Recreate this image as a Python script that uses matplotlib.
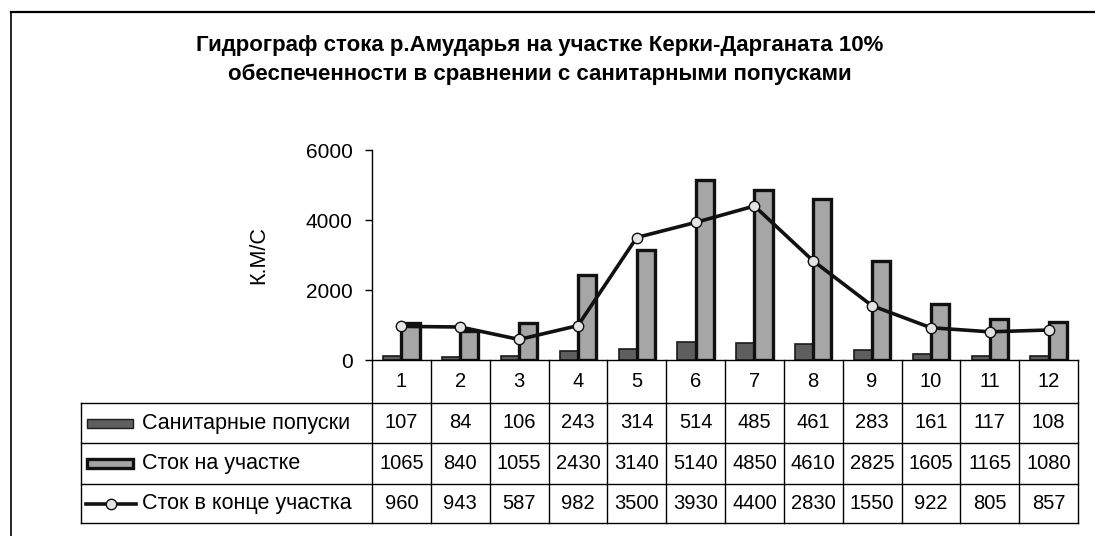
import matplotlib
matplotlib.use("Agg")
import matplotlib.pyplot as plt
from matplotlib.lines import Line2D
from matplotlib.patches import Rectangle

# данные
months = [1, 2, 3, 4, 5, 6, 7, 8, 9, 10, 11, 12]
sanitary = [107, 84, 106, 243, 314, 514, 485, 461, 283, 161, 117, 108]
flow_reach = [1065, 840, 1055, 2430, 3140, 5140, 4850, 4610, 2825, 1605, 1165, 1080]
flow_end = [960, 943, 587, 982, 3500, 3930, 4400, 2830, 1550, 922, 805, 857]
series_names = ["Санитарные попуски", "Сток на участке", "Сток в конце участка"]
title_lines = ["Гидрограф стока р.Амударья на участке Керки-Дарганата 10%",
               "обеспеченности в сравнении с санитарными попусками"]
ylabel = "К.М/С"
yticks = [0, 2000, 4000, 6000]

W, H = 1095, 536
DARK, LIGHT, MARK = "#5E5E5E", "#A6A6A6", "#E4E4E4"
FONT = "Liberation Sans"
FS = 14.5

plt.rcParams.update({"font.family": FONT, "font.size": FS})

fig = plt.figure(figsize=(W / 100, H / 100), dpi=100)


def fx(px):
    return px / W


def fy(py):
    return 1 - py / H


# рамка (видны только верх и левый край)
fig.add_artist(Line2D([fx(11), fx(11)], [fy(12), fy(536)], color="black", lw=1.2,
                      transform=fig.transFigure))
fig.add_artist(Line2D([fx(11), fx(1095)], [fy(12), fy(12)], color="black", lw=1.6,
                      transform=fig.transFigure))

for t, y in zip(title_lines, [46, 74]):
    fig.text(fx(540), fy(y), t, ha="center", va="center", fontsize=16, fontweight="bold")

# область графика
X0, X1, YT, YB = 372, 1078, 150, 360
ax = fig.add_axes([fx(X0), fy(YB), fx(X1 - X0), (YB - YT) / H])
ax.set_xlim(0.5, 12.5)
ax.set_ylim(0, 6000)
for s in ["top", "right", "bottom"]:
    ax.spines[s].set_visible(False)
ax.spines["left"].set_linewidth(1.0)
ax.set_xticks([])
ax.set_yticks(yticks)
ax.tick_params(axis="y", length=5, width=1, pad=9, labelsize=15)
ax.set_ylabel(ylabel, fontsize=15.5, labelpad=26)
ax.patch.set_alpha(0)

bw = 0.31
ax.bar([m - bw / 2 for m in months], sanitary, width=bw, color=DARK,
       edgecolor="#1a1a1a", linewidth=1.2, zorder=2)
ax.bar([m + bw / 2 for m in months], flow_reach, width=bw, color=LIGHT,
       edgecolor="#111111", linewidth=2.4, zorder=3)
ax.plot(months, flow_end, color="#111111", lw=2.6, marker="o", ms=7.5,
        mfc=MARK, mec="#111111", mew=1.0, zorder=4, clip_on=False)

# таблица данных
rows = [360, 403, 443, 484, 523]
LX = 81
cw = (X1 - X0) / 12


def hline(y, xa, xb, lw=1.0):
    fig.add_artist(Line2D([fx(xa), fx(xb)], [fy(y), fy(y)], color="black", lw=lw,
                          transform=fig.transFigure))


def vline(x, ya, yb, lw=1.0):
    fig.add_artist(Line2D([fx(x), fx(x)], [fy(ya), fy(yb)], color="black", lw=lw,
                          transform=fig.transFigure))


hline(rows[0], X0, X1)
for y in rows[1:]:
    hline(y, LX, X1)
vline(LX, rows[1], rows[4])
for i in range(13):
    vline(X0 + i * cw, rows[0], rows[4])

for i, m in enumerate(months):
    cx = X0 + (i + 0.5) * cw
    fig.text(fx(cx), fy((rows[0] + rows[1]) / 2), str(m), ha="center", va="center", fontsize=FS)
    for r, vals in enumerate([sanitary, flow_reach, flow_end]):
        fig.text(fx(cx), fy((rows[r + 1] + rows[r + 2]) / 2), str(vals[i]),
                 ha="center", va="center", fontsize=FS)

# ключи легенды в таблице
cy = [(rows[r] + rows[r + 1]) / 2 for r in range(1, 4)]
fig.add_artist(Rectangle((fx(87), fy(cy[0] + 4.5)), fx(46), 9 / H, facecolor=DARK,
                         edgecolor="#1a1a1a", lw=1.0, transform=fig.transFigure))
fig.add_artist(Rectangle((fx(87), fy(cy[1] + 4.5)), fx(46), 9 / H, facecolor=LIGHT,
                         edgecolor="#111111", lw=2.4, transform=fig.transFigure))
fig.add_artist(Line2D([fx(86), fx(136)], [fy(cy[2]), fy(cy[2])], color="#111111", lw=2.6,
                      transform=fig.transFigure))
fig.add_artist(Line2D([fx(111)], [fy(cy[2])], marker="o", ms=7.5, mfc=MARK, mec="#111111",
                      mew=1.0, transform=fig.transFigure))
for name, y in zip(series_names, cy):
    fig.text(fx(142), fy(y), name, ha="left", va="center", fontsize=15.5)

fig.savefig("out.png", dpi=100)
